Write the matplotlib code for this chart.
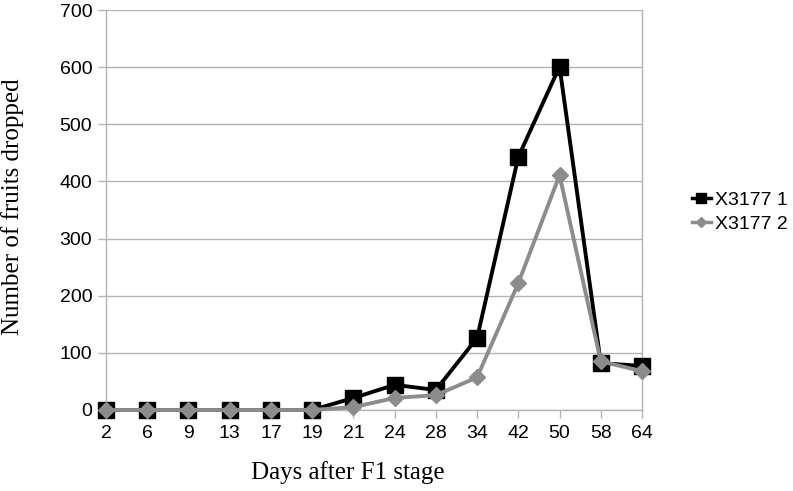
"""Fruit drop over days after F1 stage (out.png)."""

import matplotlib.pyplot as plt

days = ["2", "6", "9", "13", "17", "19", "21", "24", "28", "34", "42", "50", "58", "64"]
x3177_1 = [0, 0, 0, 0, 0, 0, 21, 44, 35, 126, 443, 601, 82, 77]
x3177_2 = [0, 0, 0, 0, 0, 0, 5, 21, 26, 57, 222, 411, 85, 68]

GRID = "#b3b3b3"
GREY = "#8c8c8c"


def main():
    fig = plt.figure(figsize=(7.93, 4.91), dpi=100)
    ax = fig.add_axes([0.1337, 0.165, 0.6759, 0.8146])

    xs = range(len(days))
    ax.plot(xs, x3177_1, color="black", lw=2.8, marker="s", ms=11,
            label="X3177 1", zorder=3, clip_on=False)
    ax.plot(xs, x3177_2, color=GREY, lw=2.8, marker="D", ms=8,
            label="X3177 2", zorder=4, clip_on=False)

    ax.set_xlim(0, len(days) - 1)
    ax.set_ylim(0, 700)
    ax.set_yticks(range(0, 701, 100))
    ax.set_xticks(list(xs))
    ax.set_xticklabels(days)
    ax.grid(axis="y", color=GRID, lw=1)
    ax.set_axisbelow(True)
    for s in ax.spines.values():
        s.set_color(GRID)
        s.set_linewidth(1)
    ax.spines["top"].set_visible(False)
    ax.tick_params(axis="both", colors=GRID, labelcolor="black",
                   labelsize=14, length=6, width=1)
    ax.tick_params(axis="x", pad=5)
    ax.tick_params(axis="y", pad=4)
    for lab in ax.get_xticklabels() + ax.get_yticklabels():
        lab.set_family("Liberation Sans")

    ax.set_xlabel("Days after F1 stage", family="Liberation Serif", fontsize=18)
    ax.xaxis.set_label_coords(0.451, -0.128)
    ax.set_ylabel("Number of fruits dropped", family="Liberation Serif",
                  fontsize=18)
    ax.yaxis.set_label_coords(-0.153, 0.508)

    leg = ax.legend(loc="center left", bbox_to_anchor=(1.06, 0.495),
                    frameon=False, handlelength=1.0, handletextpad=0.2,
                    labelspacing=0.35, markerscale=0.6,
                    prop={"family": "Liberation Sans", "size": 14})
    for h in leg.get_lines():
        h.set_linewidth(2.5)

    fig.savefig("out.png", dpi=100)
    plt.close(fig)


if __name__ == "__main__":
    main()
